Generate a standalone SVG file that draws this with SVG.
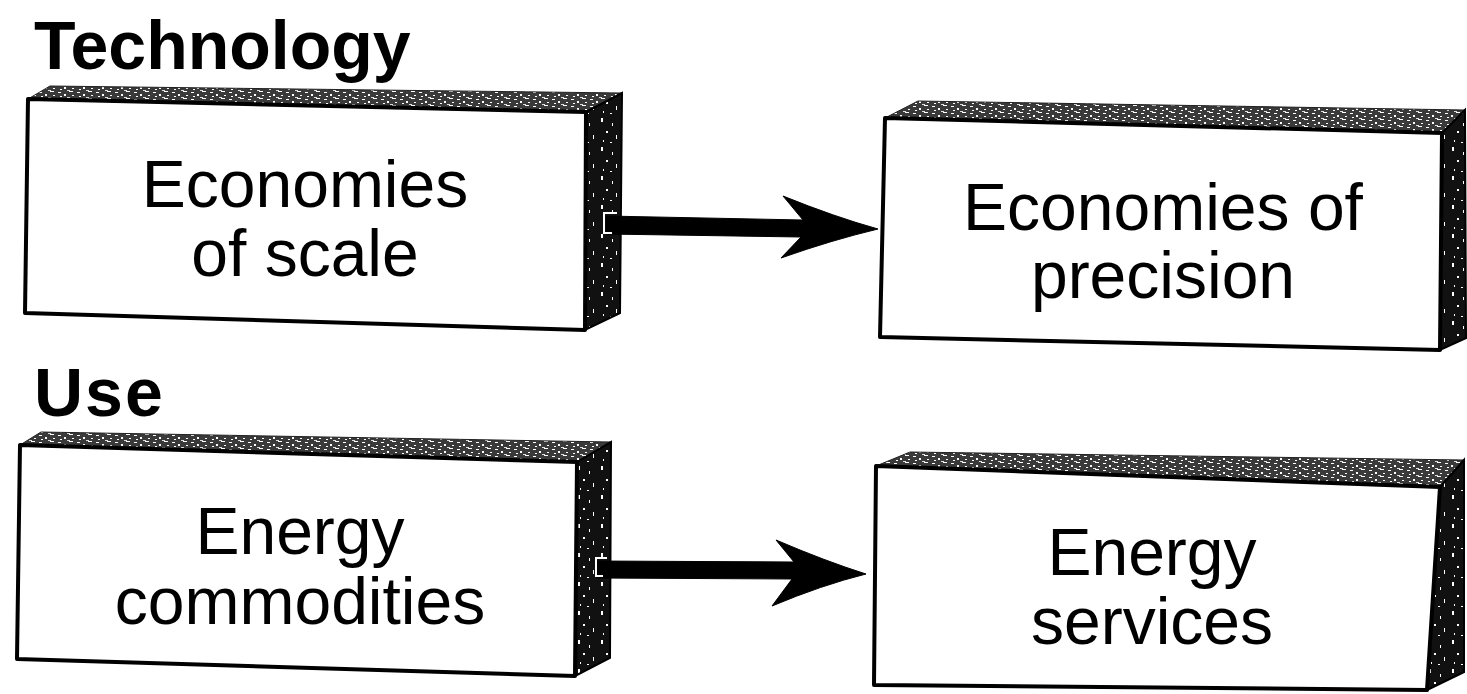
<svg xmlns="http://www.w3.org/2000/svg" width="1467" height="694" viewBox="0 0 1467 694">
<defs>
<pattern id="dark" width="23" height="29" patternUnits="userSpaceOnUse">
<rect width="23" height="29" fill="#111"/>
<rect x="3" y="2" width="2" height="4" fill="#fff"/>
<rect x="14" y="7" width="1" height="3" fill="#fff"/>
<rect x="8" y="15" width="2" height="2" fill="#fff"/>
<rect x="18" y="19" width="1" height="4" fill="#fff"/>
<rect x="5" y="24" width="1" height="2" fill="#fff"/>
<rect x="12" y="26" width="2" height="1" fill="#fff"/>
</pattern>
<pattern id="top" width="19" height="7" patternUnits="userSpaceOnUse">
<rect width="19" height="7" fill="#3a3a3a"/>
<rect x="1" y="1" width="3" height="1" fill="#fff"/>
<rect x="7" y="3" width="2" height="2" fill="#fff"/>
<rect x="12" y="0" width="4" height="1" fill="#fff"/>
<rect x="15" y="4" width="2" height="1" fill="#fff"/>
<rect x="3" y="5" width="2" height="1" fill="#fff"/>
<rect x="10" y="6" width="3" height="1" fill="#ddd"/>
</pattern>
<style>
.front{fill:#fff;stroke:#000;stroke-width:4;stroke-linejoin:round}
.side{fill:url(#dark);stroke:#000;stroke-width:2}
.topf{fill:url(#top);stroke:#222;stroke-width:1}
.lbl{font-family:"Liberation Sans",Arial,sans-serif;font-size:66px;fill:#000;text-anchor:middle}
.hdr{font-family:"Liberation Sans",Arial,sans-serif;font-size:68px;font-weight:bold;fill:#000}
.arr{fill:#000;stroke:#000;stroke-width:1;stroke-linejoin:round}
.tick{fill:none;stroke:#fff;stroke-width:2}
</style>
</defs>
<rect width="1467" height="694" fill="#fff"/>
<text class="hdr" x="34" y="69">Technology</text>
<text class="hdr" x="34" y="416" font-size="71" letter-spacing="2">Use</text>

<g id="node-scale">
<polygon class="topf" points="28,99 50,86 622,93 586,112"/>
<polygon class="side" points="586,112 622,93 620,313 585,330"/>
<polygon class="front" points="28,99 586,112 585,330 25,313"/>
<text class="lbl" x="305" y="207">Economies</text>
<text class="lbl" x="305" y="276">of scale</text>
</g>

<g id="node-precision">
<polygon class="topf" points="885,118 918,101 1465,110 1442,133"/>
<polygon class="side" points="1442,133 1465,110 1466,338 1440,350"/>
<polygon class="front" points="885,118 1442,133 1440,350 880,337"/>
<text class="lbl" x="1163" y="230">Economies of</text>
<text class="lbl" x="1163" y="298">precision</text>
</g>

<g id="node-commodities">
<polygon class="topf" points="20,445 41,432 611,442 577,462"/>
<polygon class="side" points="577,462 611,442 610,658 575,676"/>
<polygon class="front" points="20,445 577,462 575,676 17,659"/>
<text class="lbl" x="300" y="554">Energy</text>
<text class="lbl" x="300" y="624">commodities</text>
</g>

<g id="node-services">
<polygon class="topf" points="876,466 910,452 1464,460 1440,487"/>
<polygon class="side" points="1440,487 1464,460 1464,672 1427,690"/>
<polygon class="front" points="876,466 1440,487 1427,690 874,685"/>
<text class="lbl" x="1152" y="575">Energy</text>
<text class="lbl" x="1152" y="644">services</text>
</g>

<g id="connectors">
<path class="arr" d="M606,216 L803,220 L783,196 Q835,217 878,229 Q832,240 781,258 L801,237 L606,234 Z"/>
<polyline class="tick" points="617,213 604,213 604,233 612,233"/>
<path class="arr" d="M597,561 L794,562 L776,540 Q825,561 866,574 Q822,585 772,606 L792,579 L597,578 Z"/>
<polyline class="tick" points="607,558 596,558 596,576 603,576"/>
</g>
</svg>
